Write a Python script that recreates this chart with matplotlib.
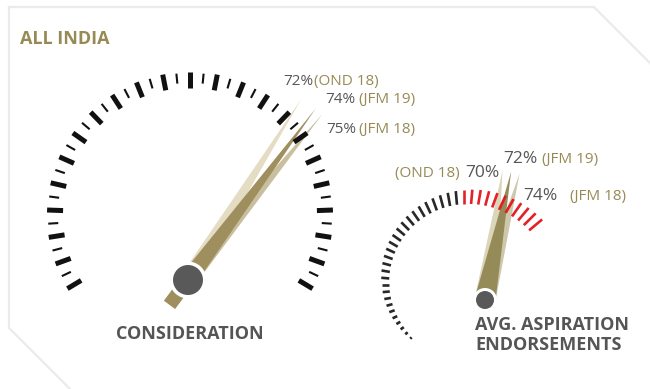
import numpy as np
import matplotlib
matplotlib.use("Agg")
import matplotlib.pyplot as plt
from matplotlib.patches import Polygon, Circle

plt.rcParams['font.family'] = ['Open Sans', 'DejaVu Sans']

# ---- data -------------------------------------------------------------
periods = ["OND 18", "JFM 19", "JFM 18"]
consideration = [72, 74, 75]          # % per period
aspiration = [70, 72, 74]             # avg. aspiration endorsements, %
panel_title = "ALL INDIA"
gauge_titles = ["CONSIDERATION", "AVG. ASPIRATION\nENDORSEMENTS"]

# ---- styles -----------------------------------------------------------
OLIVE_TXT = "#978a55"
GREY_TXT = "#555555"
left_colors = {"OND 18": "#e4dcc3", "JFM 19": "#a08f5e", "JFM 18": "#c8bf9f"}
right_colors = {"OND 18": "#dbd5b9", "JFM 19": "#958b58", "JFM 18": "#cdc7ab"}
draw_order = ["OND 18", "JFM 18", "JFM 19"]   # last one sits in front

fig = plt.figure(figsize=(6.5, 3.89), dpi=100)
ax = fig.add_axes([0, 0, 1, 1])
ax.set_xlim(0, 650)
ax.set_ylim(389, 0)
ax.axis("off")

# panel frame with cut corners
ax.plot([9, 594, 650], [7, 7, 63], color="#ebebeb", lw=1.6, solid_joinstyle="miter")
ax.plot([9, 9, 70], [7, 328, 389], color="#ebebeb", lw=1.6, solid_joinstyle="miter")


def polar(cx, cy, r, ang):
    th = np.radians(ang)
    return cx + r * np.cos(th), cy - r * np.sin(th)


def needle(hub, ang, length, half_w, color, z, tail=None):
    th = np.radians(ang)
    ux, uy = np.cos(th), -np.sin(th)
    px, py = -uy, ux
    hx, hy = hub
    tip = (hx + length * ux, hy + length * uy)
    pts = [(hx + half_w * px, hy + half_w * py), tip, (hx - half_w * px, hy - half_w * py)]
    ax.add_patch(Polygon(pts, closed=True, fc=color, ec="none", zorder=z))
    if tail:
        tl, tw = tail
        bx, by = hx - tl * ux, hy - tl * uy
        rect = [(hx + tw * px, hy + tw * py), (hx - tw * px, hy - tw * py),
                (bx - tw * px, by - tw * py), (bx + tw * px, by + tw * py)]
        ax.add_patch(Polygon(rect, closed=True, fc=color, ec="none", zorder=z))


def hub_cap(hub, r, ring):
    ax.add_patch(Circle(hub, r + ring, fc="white", ec="none", zorder=8))
    ax.add_patch(Circle(hub, r, fc="#595959", ec="none", zorder=9))


# ---- left gauge: consideration ------------------------------------------
L_CENTER = (190, 215)
L_HUB = (188, 280)
L_START, L_SWEEP, L_LEN = 225.0, 232.0, 214

n_ticks = 45
for i in range(n_ticks):
    a = 211 - 5.5 * i
    if i % 2 == 0:
        r0, r1, lw = 127, 143, 3.6
    else:
        r0, r1, lw = 132, 142, 1.5
    x0, y0 = polar(*L_CENTER, r0, a)
    x1, y1 = polar(*L_CENTER, r1, a)
    ax.plot([x0, x1], [y0, y1], color="#111111", lw=lw, solid_capstyle="butt", zorder=6)

for p in draw_order:
    v = consideration[periods.index(p)]
    ang = L_START - L_SWEEP * v / 100
    tail = (31, 7) if p == draw_order[-1] else None
    needle(L_HUB, ang, L_LEN, 8.5, left_colors[p], 3 + draw_order.index(p), tail)
hub_cap(L_HUB, 15, 3.5)

# value labels, left gauge
l_lab_x = [313, 355, 356]
l_lab_y = [85, 103, 133]
l_gap = [1, 4, 3]
for p, v, x, y, g in zip(periods, consideration, l_lab_x, l_lab_y, l_gap):
    ax.text(x, y, f"{v}%", ha="right", va="baseline", fontsize=11, color=GREY_TXT, zorder=10)
    ax.text(x + g, y, f"({p})", ha="left", va="baseline", fontsize=11, color=OLIVE_TXT, zorder=10)

ax.text(190, 334, gauge_titles[0], ha="center", va="center", fontsize=13,
        fontweight="bold", color=GREY_TXT)

# ---- right gauge: aspiration endorsements -------------------------------
R_CENTER = (464, 285)
R_HUB = (485, 300)
R_START, R_SWEEP, R_LEN = 215.3, 190.0, 131

n_rt = 38
n_red = 11
for i in range(n_rt):
    t = i / (n_rt - 1)
    a = 225 - 185 * t
    r_out = 76 + 26 * t
    length = 2 + 15 * t ** 0.7
    col = "#e3141c" if i >= n_rt - n_red else "#1c1c1c"
    x0, y0 = polar(*R_CENTER, r_out - length, a)
    x1, y1 = polar(*R_CENTER, r_out, a)
    ax.plot([x0, x1], [y0, y1], color=col, lw=1.9, solid_capstyle="butt", zorder=6, alpha=0.95)

for p in draw_order:
    v = aspiration[periods.index(p)]
    ang = R_START - R_SWEEP * v / 100
    needle(R_HUB, ang, R_LEN, 10.5, right_colors[p], 3 + draw_order.index(p))
hub_cap(R_HUB, 9, 3)

# value labels, right gauge
r_pct_x = [500, 537, 558]
r_per_x = [460, 542, 570]
r_lab_y = [177, 163, 200]
for p, v, xp, xq, y in zip(periods, aspiration, r_pct_x, r_per_x, r_lab_y):
    ax.text(xp, y, f"{v}%", ha="right", va="baseline", fontsize=12.5, color=GREY_TXT, zorder=10)
    if xq < xp:
        ax.text(xq, y, f"({p})", ha="right", va="baseline", fontsize=11, color=OLIVE_TXT, zorder=10)
    else:
        ax.text(xq, y, f"({p})", ha="left", va="baseline", fontsize=11, color=OLIVE_TXT, zorder=10)

ax.text(475, 335, gauge_titles[1], ha="left", va="center", fontsize=13,
        fontweight="bold", color=GREY_TXT, linespacing=1.1)

ax.text(20, 44, panel_title, ha="left", va="baseline", fontsize=13,
        fontweight="bold", color=OLIVE_TXT)

fig.savefig("out.png", dpi=100, facecolor="white")
